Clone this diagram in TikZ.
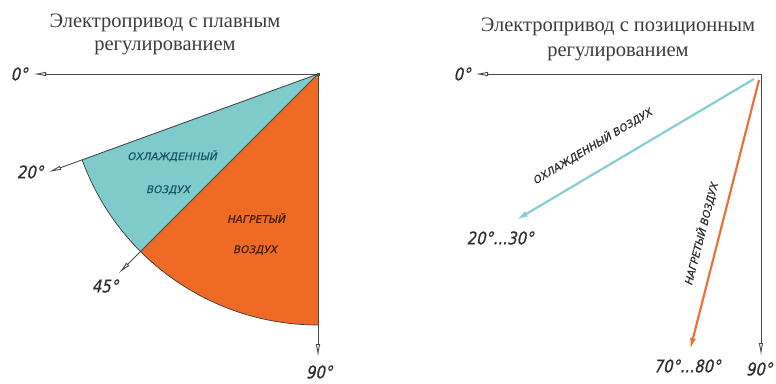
\documentclass[tikz,border=0pt]{standalone}
\usepackage{fontspec}
\setmainfont{Liberation Serif}
\newfontfamily\gostN[FakeSlant=0.22,FakeStretch=0.85,FakeBold=0.6]{DejaVu Sans}
\newfontfamily\gostW[FakeSlant=0.22,FakeBold=0.6]{DejaVu Sans}
\usetikzlibrary{arrows.meta,calc}
\definecolor{cool}{HTML}{7FCBCB}
\definecolor{hot}{HTML}{EE6A25}
\definecolor{coolline}{HTML}{86CDD6}
\definecolor{hotline}{HTML}{E8733A}
\definecolor{axc}{HTML}{4A4A4A}
\definecolor{labc}{HTML}{2E2E2E}
\definecolor{titc}{HTML}{3C3C3C}
\definecolor{cooltext}{HTML}{1A5866}
\definecolor{hottext}{HTML}{45200C}
\begin{document}
\begin{tikzpicture}[x=1pt,y=-1pt,
  axis/.style={draw=axc, line width=0.9pt},
  axarrow/.style={-{Latex[open,length=13pt,width=4.5pt]}},
  edgeline/.style={draw=axc!80!black, line width=0.7pt},
  deg/.style={font=\gostN\fontsize{17.5}{18}\selectfont, text=labc, inner sep=0pt},
  sect/.style={font=\gostW\fontsize{10.5}{11}\selectfont, inner sep=0pt},
  title/.style={font=\fontsize{20.5}{22}\selectfont, text=titc, inner sep=0pt, anchor=base},
  flowline/.style={line width=2.2pt, -{Latex[length=12pt,width=6pt]}}
]
\useasboundingbox (0,0) rectangle (776,383);

% ---------- titles
\node[title] (t1a) at (165,27) {Электропривод с плавным};
\node[title] (t1b) at (165,50) {регулированием};
\node[title] (t2a) at (618,31) {Электропривод с позиционным};
\node[title] (t2b) at (618,56) {регулированием};

% ---------- left diagram
\coordinate (A) at (318,74);
\coordinate (A20) at ($(A)+(160:251)$);
\coordinate (A45) at ($(A)+(135:251)$);
\coordinate (A90) at ($(A)+(90:251)$);
\coordinate (L0) at (33,74);
\coordinate (L20) at ($(A)+(160:287)$);
\coordinate (L45) at ($(A)+(135:282)$);
\coordinate (L90) at (318,357);

\fill[cool] (A) -- (A20) arc[start angle=160,end angle=135,radius=251] -- cycle;
\fill[hot] (A) -- (A45) arc[start angle=135,end angle=90,radius=251] -- cycle;
\draw[edgeline] (A20) arc[start angle=160,end angle=90,radius=251];

\draw[axis,axarrow] (A) -- (L0);
\draw[axis,axarrow] (A) -- (L20);
\draw[axis,axarrow] (A) -- (L45);
\draw[axis,axarrow] (A) -- (L90);
\fill[axc] ($(A)+(-1.5,-1.5)$) rectangle ($(A)+(1.5,1.5)$);

\node[deg] (d0) at (19,74) {0°};
\node[deg] (d20) at (30,172) {20°};
\node[deg] (d45) at (105,286) {45°};
\node[deg] (d90) at (319,372) {90°};

\node[sect, text=cooltext] (c1) at (172,156) {ОХЛАЖДЕННЫЙ};
\node[sect, text=cooltext] (c2) at (168,190) {ВОЗДУХ};
\node[sect, text=hottext] (h1) at (256,218) {НАГРЕТЫЙ};
\node[sect, text=hottext] (h2) at (255,250) {ВОЗДУХ};

% ---------- right diagram
\coordinate (B) at (761,74);
\coordinate (R0) at (475,74);
\coordinate (R90) at (761,356);
\coordinate (C1) at (754,79);
\coordinate (C2) at (516,220);
\coordinate (O1) at (759,80);
\coordinate (O2) at (690,350);

\draw[axis,axarrow] (B) -- (R0);
\draw[axis,axarrow] (B) -- (R90);
\draw[flowline, coolline] (C1) -- (C2);
\draw[flowline, hotline] (O1) -- (O2);

\node[sect, text=labc, rotate=31] (ct) at (592,146) {ОХЛАЖДЕННЫЙ ВОЗДУХ};
\node[sect, text=labc, rotate=75.5] (ht) at (701,234) {НАГРЕТЫЙ ВОЗДУХ};

\node[deg] (e0) at (462,74) {0°};
\node[deg] (e2030) at (500,238) {20°...30°};
\node[deg] (e7080) at (687,366) {70°...80°};
\node[deg] (e90) at (759,369) {90°};
\end{tikzpicture}
\end{document}
